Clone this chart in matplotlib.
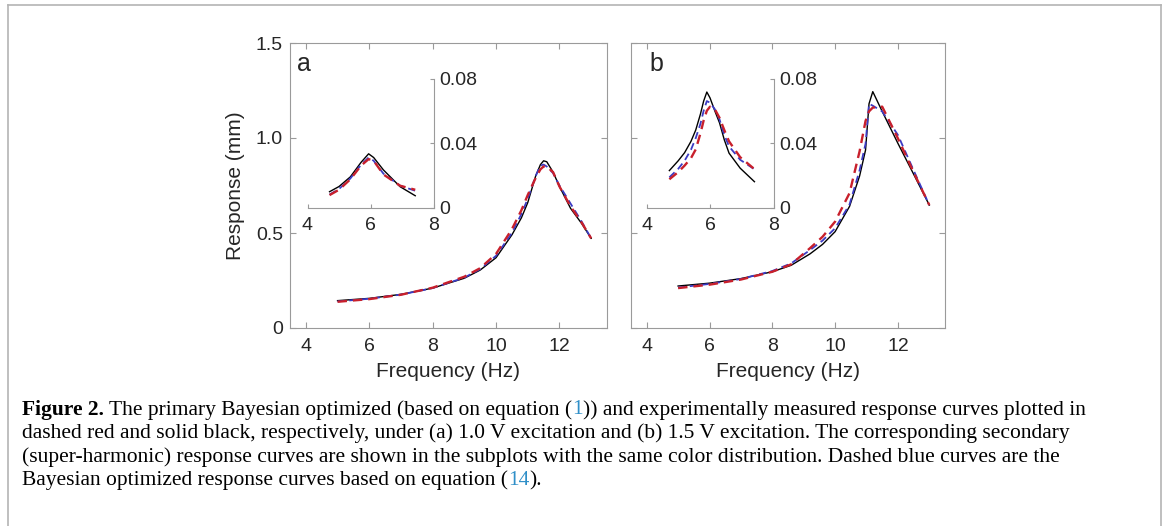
"""Primary and super-harmonic response curves, panels a and b, with caption."""
import matplotlib
matplotlib.use("Agg")
import matplotlib.pyplot as plt
from matplotlib.lines import Line2D

# ---- main response curves, panel a (1.0 V) ----
FREQ_A = [5, 6, 7, 8, 9, 9.5, 10, 10.5, 10.8, 11.0, 11.25, 11.4, 11.5, 11.6, 11.8,
          12.0, 12.35, 12.7, 13.0]
EXP_A = [0.144, 0.156, 0.177, 0.21, 0.262, 0.305, 0.37, 0.49, 0.58, 0.66, 0.80,
         0.86, 0.88, 0.875, 0.82, 0.745, 0.63, 0.55, 0.472]
BAYES1_A = [0.138, 0.152, 0.175, 0.212, 0.27, 0.315, 0.39, 0.52, 0.62, 0.70, 0.79,
            0.835, 0.85, 0.85, 0.82, 0.745, 0.64, 0.555, 0.472]
BAYES14_A = [0.14, 0.154, 0.176, 0.21, 0.265, 0.31, 0.38, 0.50, 0.60, 0.68, 0.80,
             0.855, 0.86, 0.85, 0.815, 0.75, 0.655, 0.56, 0.472]

# ---- main response curves, panel b (1.5 V) ----
FREQ_B = [5, 6, 7, 8, 8.6, 9.2, 9.6, 10.0, 10.46, 10.78, 10.97, 11.08, 11.2, 11.5,
          12.0, 12.5, 13.0]
EXP_B = [0.221, 0.236, 0.26, 0.296, 0.33, 0.39, 0.44, 0.507, 0.64, 0.80, 0.937,
         1.18, 1.244, 1.14, 0.972, 0.81, 0.647]
BAYES1_B = [0.21, 0.228, 0.255, 0.296, 0.335, 0.42, 0.48, 0.56, 0.71, 0.93, 1.09,
            1.14, 1.16, 1.165, 0.998, 0.82, 0.647]
BAYES14_B = [0.213, 0.232, 0.258, 0.30, 0.34, 0.41, 0.46, 0.525, 0.65, 0.83, 0.97,
             1.18, 1.17, 1.14, 1.016, 0.83, 0.647]

# ---- super-harmonic (inset) curves ----
FREQ_SA = [4.7, 5.0, 5.36, 5.7, 5.94, 6.1, 6.41, 6.94, 7.42]
EXP_SA = [0.0098, 0.013, 0.019, 0.028, 0.0333, 0.031, 0.0233, 0.0129, 0.0073]
BAYES1_SA = [0.0077, 0.011, 0.0175, 0.026, 0.030, 0.029, 0.0205, 0.0135, 0.011]
BAYES14_SA = [0.008, 0.0115, 0.018, 0.0265, 0.031, 0.029, 0.021, 0.0135, 0.0104]

FREQ_SB = [4.72, 5.0, 5.2, 5.4, 5.55, 5.7, 5.8, 5.9, 6.0, 6.15, 6.3, 6.45, 6.6,
           6.95, 7.4]
EXP_SB = [0.0229, 0.029, 0.034, 0.041, 0.048, 0.058, 0.066, 0.0716, 0.068, 0.060,
          0.0525, 0.042, 0.0337, 0.0244, 0.016]
BAYES1_SB = [0.0175, 0.022, 0.026, 0.0306, 0.036, 0.046, 0.054, 0.060, 0.0625,
             0.061, 0.0556, 0.048, 0.041, 0.0312, 0.0238]
BAYES14_SB = [0.0187, 0.024, 0.029, 0.0358, 0.043, 0.052, 0.060, 0.066, 0.065,
              0.061, 0.0546, 0.045, 0.0379, 0.0296, 0.0237]

MAIN_XTICKS = [4, 6, 8, 10, 12]
MAIN_YTICKS = [0, 0.5, 1.0, 1.5]
MAIN_YTICKLABELS = ["0", "0.5", "1.0", "1.5"]
INSET_XTICKS = [4, 6, 8]
INSET_YTICKS = [0, 0.04, 0.08]
INSET_YTICKLABELS = ["0", "0.04", "0.08"]

CAPTION = [
    [("Figure 2.", "k", "bold"),
     (" The primary Bayesian optimized (based on equation (", "k", "normal"),
     ("1", "#2f8fc8", "normal"),
     (")) and experimentally measured response curves plotted in", "k", "normal")],
    [("dashed red and solid black, respectively, under (a) 1.0 V excitation and "
      "(b) 1.5 V excitation. The corresponding secondary", "k", "normal")],
    [("(super-harmonic) response curves are shown in the subplots with the same "
      "color distribution. Dashed blue curves are the", "k", "normal")],
    [("Bayesian optimized response curves based on equation (", "k", "normal"),
     ("14", "#2f8fc8", "normal"),
     (").", "k", "normal")],
]

W, H = 1167, 526
SPINE = "#9a9a9a"
TXT = "#262626"
RED = "#c8202c"
BLUE = "#3b3bc4"
TICK_FS = 14
LABEL_FS = 15

plt.rcParams["font.family"] = ["Liberation Sans", "DejaVu Sans"]


def px(x0, y_top, x1, y_bot):
    return [x0 / W, 1 - y_bot / H, (x1 - x0) / W, (y_bot - y_top) / H]


def draw_curves(ax, f, exp, b1, b14):
    ax.plot(f, exp, color="k", lw=1.0, zorder=3)
    ax.plot(f, b14, color=BLUE, lw=1.3, ls=(0, (4, 2.5)), zorder=4)
    ax.plot(f, b1, color=RED, lw=1.7, ls=(0, (4, 2.5)), zorder=5)


def style_main(ax, show_ylabels):
    ax.set_xlim(3.5, 13.5)
    ax.set_ylim(0, 1.5)
    ax.set_xticks(MAIN_XTICKS)
    ax.set_yticks(MAIN_YTICKS)
    ax.set_yticklabels(MAIN_YTICKLABELS if show_ylabels else [])
    ax.tick_params(direction="in", length=4, width=0.8, color=SPINE,
                   labelsize=TICK_FS, labelcolor=TXT, top=True, right=True)
    ax.tick_params(axis="x", pad=7)
    ax.tick_params(axis="y", pad=5)
    for s in ax.spines.values():
        s.set_color(SPINE)
        s.set_linewidth(0.8)
    ax.set_xlabel("Frequency (Hz)", fontsize=LABEL_FS, color=TXT, labelpad=5)


def style_inset(ax):
    ax.set_xlim(4, 8)
    ax.set_ylim(0, 0.08)
    ax.set_xticks(INSET_XTICKS)
    ax.set_yticks(INSET_YTICKS)
    ax.set_yticklabels(INSET_YTICKLABELS)
    ax.yaxis.tick_right()
    ax.spines["left"].set_visible(False)
    ax.spines["top"].set_visible(False)
    for name in ("bottom", "right"):
        ax.spines[name].set_color(SPINE)
        ax.spines[name].set_linewidth(0.8)
    ax.tick_params(direction="in", length=3, width=0.8, color=SPINE,
                   labelsize=TICK_FS, labelcolor=TXT)
    ax.tick_params(axis="x", pad=7)
    ax.tick_params(axis="y", pad=4)
    ax.patch.set_alpha(0)


fig = plt.figure(figsize=(W / 100, H / 100), dpi=100)

ax_a = fig.add_axes(px(290, 43, 607, 328))
ax_b = fig.add_axes(px(631, 43, 945, 328))
in_a = fig.add_axes(px(307.5, 78.5, 433.5, 207.5))
in_b = fig.add_axes(px(646.5, 78.5, 773.5, 207.5))

draw_curves(ax_a, FREQ_A, EXP_A, BAYES1_A, BAYES14_A)
draw_curves(ax_b, FREQ_B, EXP_B, BAYES1_B, BAYES14_B)
draw_curves(in_a, FREQ_SA, EXP_SA, BAYES1_SA, BAYES14_SA)
draw_curves(in_b, FREQ_SB, EXP_SB, BAYES1_SB, BAYES14_SB)

style_main(ax_a, True)
style_main(ax_b, False)
ax_a.set_ylabel("Response (mm)", fontsize=LABEL_FS, color=TXT, labelpad=8)
style_inset(in_a)
style_inset(in_b)

ax_a.text(0.022, 0.902, "a", transform=ax_a.transAxes, fontsize=18,
          color=TXT, va="baseline")
ax_b.text(0.058, 0.902, "b", transform=ax_b.transAxes, fontsize=18,
          color=TXT, va="baseline")

# outer frame of the figure box (open at the bottom)
frame = dict(color="#b4b4b4", lw=1.2, transform=fig.transFigure)
fig.add_artist(Line2D([7.5 / W, 7.5 / W], [0, 1 - 5 / H], **frame))
fig.add_artist(Line2D([7.5 / W, 1161 / W], [1 - 5 / H, 1 - 5 / H], **frame))
fig.add_artist(Line2D([1161 / W, 1161 / W], [0, 1 - 5 / H], **frame))

# caption, serif, with coloured equation numbers
renderer = fig.canvas.get_renderer()
SERIF = ["Liberation Serif", "DejaVu Serif"]


def seg_width(s, size, weight):
    t = fig.text(0, 0, "|" + s + "|", fontsize=size, family=SERIF, weight=weight)
    t2 = fig.text(0, 0, "||", fontsize=size, family=SERIF, weight=weight)
    w = t.get_window_extent(renderer).width - t2.get_window_extent(renderer).width
    t.remove()
    t2.remove()
    return w


base = 12.0
w1 = sum(seg_width(s, base, wt) for s, _, wt in CAPTION[0])
cap_size = base * (1085 - 22) / w1

for i, line in enumerate(CAPTION):
    x = 22.0
    y = 410 + i * 23.5
    for s, col, wt in line:
        fig.text(x / W, 1 - y / H, s, fontsize=cap_size, family=SERIF,
                 weight=wt, color=col, va="center", ha="left")
        x += seg_width(s, cap_size, wt)

fig.savefig("out.png", dpi=100)
